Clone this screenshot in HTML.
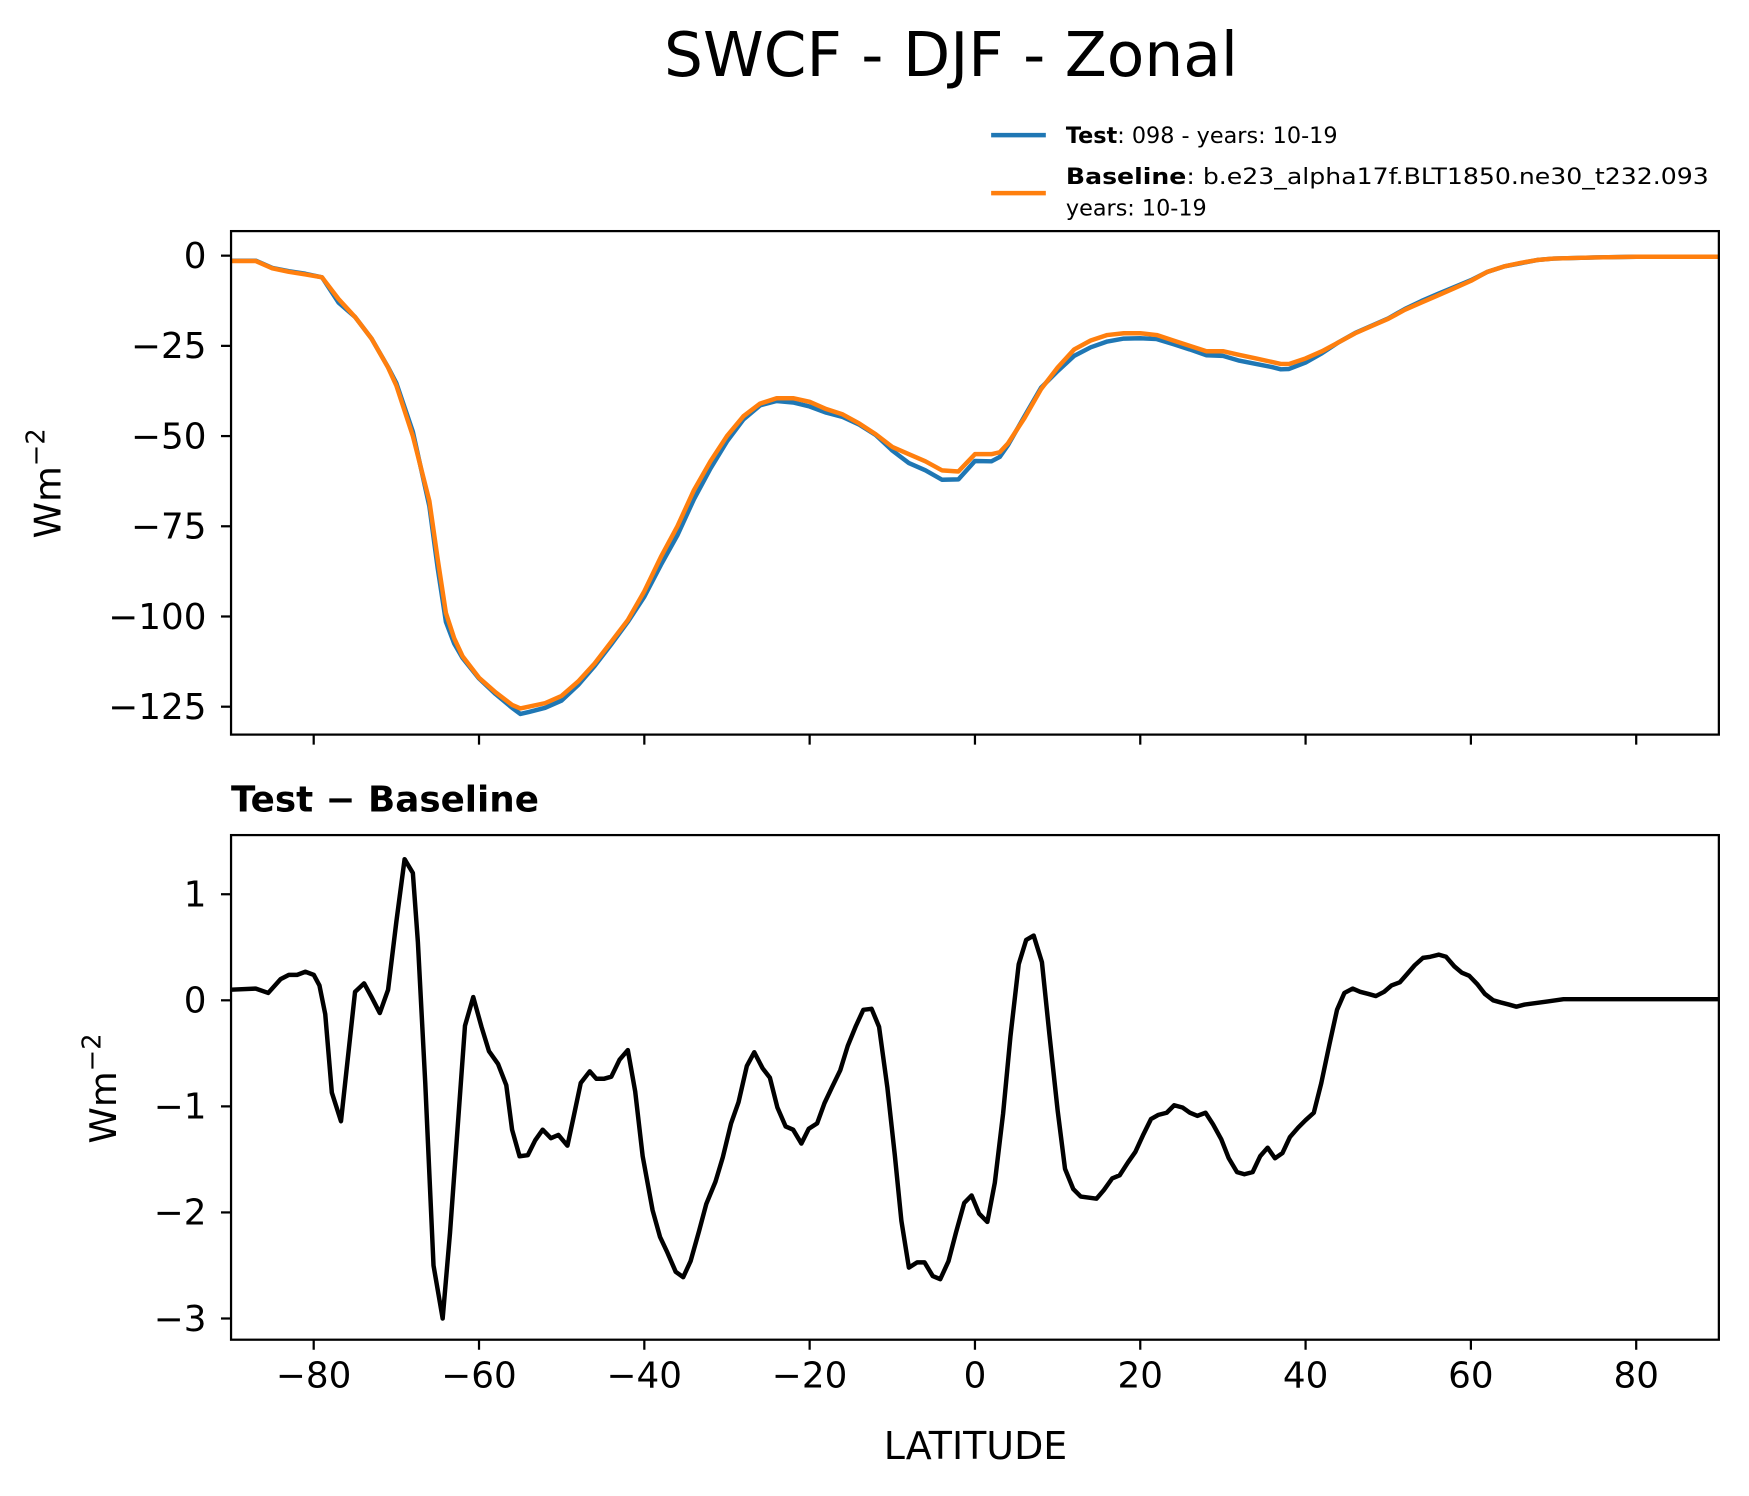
<!DOCTYPE html>
<html><head><meta charset="utf-8"><style>
html,body{margin:0;padding:0;background:#fff;}
svg{display:block;font-family:"DejaVu Sans","Liberation Sans",sans-serif;}
</style></head><body>
<svg id="fig" width="1749" height="1496" viewBox="0 0 1567 1340" preserveAspectRatio="none" xmlns="http://www.w3.org/2000/svg">
<rect width="1567" height="1340" fill="#fff"/>
<text x="852" y="68" font-size="55" text-anchor="middle">SWCF - DJF - Zonal</text>
<g font-size="20">
  <line x1="888" y1="121" x2="937" y2="121" stroke="#1f77b4" stroke-width="4"/>
  <text x="955" y="128"><tspan font-weight="bold">Test</tspan>: 098 - years: 10-19</text>
  <line x1="888" y1="173" x2="937" y2="173" stroke="#ff7f0e" stroke-width="4"/>
  <text x="955" y="165" textLength="576" lengthAdjust="spacingAndGlyphs"><tspan font-weight="bold">Baseline</tspan>: b.e23_alpha17f.BLT1850.ne30_t232.093</text>
  <text x="955" y="193">years: 10-19</text>
</g>
<g id="topPanel"></g>
<g id="botPanel"></g>
<text x="207" y="727" font-size="32" font-weight="bold">Test − Baseline</text>
<text x="874" y="1307" font-size="34" text-anchor="middle">LATITUDE</text>
<text transform="translate(54,433) rotate(-90)" font-size="33" text-anchor="middle">Wm<tspan dy="-14" font-size="23">−2</tspan></text>
<text transform="translate(104,975) rotate(-90)" font-size="33" text-anchor="middle">Wm<tspan dy="-14" font-size="23">−2</tspan></text>
</svg>
<script>
const lats = [-90,-87,-85,-83,-81,-79,-77,-75,-73,-71,-70,-68,-66,-65,-64,-63,-62,-60,-58,-56,-55,-54,-52,-50,-48,-46,-44,-42,-40,-38,-36,-34,-32,-30,-28,-26,-24,-22,-20,-18,-16,-14,-12,-10,-8,-6,-4,-2,0,2,3,4,6,8,10,12,14,16,18,20,22,24,26,28,30,32,34,36,37,38,40,42,44,46,48,50,52,54,56,58,60,62,64,66,68,70,75,80,90];
const baseVals = [-1.5,-1.5,-3.5,-4.5,-5.2,-6,-12,-17,-23,-31,-36,-50,-68,-84,-99,-106,-111,-117,-121,-124.5,-125.5,-125,-124,-122,-118,-113,-107,-101,-93,-83.5,-75,-65,-57,-50,-44.5,-41,-39.5,-39.5,-40.5,-42.5,-44,-46.5,-49.5,-53,-55,-57,-59.5,-59.8,-55,-55,-54.5,-52,-45,-37,-31,-26,-23.5,-22,-21.5,-21.5,-22,-23.5,-25,-26.5,-26.5,-27.5,-28.5,-29.5,-30,-30,-28.5,-26.5,-24,-21.5,-19.5,-17.5,-15,-13,-11,-9,-7,-4.5,-3,-2,-1.2,-0.8,-0.5,-0.3,-0.3];
const testVals = [-1.4,-1.4,-3.4,-4.3,-5,-6,-13,-17,-23,-30.9,-35.3,-48.8,-69.5,-86.5,-101.5,-107.5,-111.5,-117.2,-121.5,-125.3,-127,-126.5,-125.3,-123.3,-119,-113.7,-107.7,-101.5,-94.5,-85.7,-77.5,-67.5,-59,-51.5,-45.4,-41.5,-40.3,-40.7,-41.8,-43.5,-44.7,-46.8,-49.7,-54,-57.5,-59.5,-62.1,-62,-56.9,-57,-55.8,-52.5,-44.5,-36.6,-32,-27.8,-25.4,-23.8,-23,-22.9,-23.1,-24.5,-26,-27.6,-27.8,-29.1,-30,-30.9,-31.5,-31.4,-29.6,-27,-24,-21.4,-19.4,-17.4,-14.8,-12.6,-10.6,-8.7,-6.8,-4.5,-3,-2.1,-1.2,-0.8,-0.5,-0.3,-0.3];
const diffLats = [-90,-87,-85.5,-84,-83,-82,-81,-80,-79.3,-78.6,-77.8,-76.7,-75,-73.9,-73,-72,-71,-70,-69,-68,-67.4,-66.5,-65.5,-64.4,-63.5,-62.5,-61.7,-60.7,-59.7,-58.8,-57.7,-56.7,-56,-55.1,-54.1,-53.2,-52.3,-51.3,-50.4,-49.3,-48.5,-47.7,-46.6,-45.8,-44.9,-44,-43,-42,-41.1,-40.2,-39,-38.1,-37.2,-36.2,-35.3,-34.4,-33.4,-32.5,-31.4,-30.5,-29.5,-28.6,-27.6,-26.7,-25.7,-24.8,-23.9,-22.9,-22,-21,-20.1,-19.1,-18.2,-17.3,-16.3,-15.4,-14.4,-13.5,-12.5,-11.6,-10.6,-9.7,-8.9,-8,-7,-6.1,-5.1,-4.2,-3.2,-2.3,-1.3,-0.4,0.5,1.5,2.4,3.4,4.3,5.3,6.2,7.1,8.1,9,10,10.9,11.9,12.8,13.7,14.7,15.6,16.6,17.5,18.5,19.4,20.4,21.3,22.2,23.2,24.1,25.1,26,26.9,27.9,28.8,29.8,30.7,31.7,32.6,33.6,34.5,35.4,36.3,37.2,38.1,39.1,40,41,41.9,42.9,43.8,44.7,45.7,46.6,47.6,48.5,49.5,50.4,51.4,52.3,53.2,54.2,55.1,56.1,57,58,58.9,59.8,60.8,61.7,62.7,63.6,64.6,65.5,66.5,67.4,69.3,71.2,75,90];
const diffVals = [0.1,0.11,0.07,0.2,0.24,0.24,0.27,0.24,0.14,-0.13,-0.87,-1.14,0.08,0.16,0.03,-0.12,0.1,0.74,1.33,1.2,0.55,-0.78,-2.5,-3.0,-2.19,-1.1,-0.24,0.03,-0.25,-0.48,-0.6,-0.8,-1.22,-1.47,-1.46,-1.32,-1.22,-1.3,-1.27,-1.37,-1.08,-0.78,-0.67,-0.74,-0.74,-0.72,-0.56,-0.47,-0.86,-1.47,-1.98,-2.23,-2.38,-2.56,-2.61,-2.46,-2.18,-1.92,-1.71,-1.48,-1.16,-0.96,-0.62,-0.49,-0.64,-0.73,-1.01,-1.19,-1.22,-1.35,-1.21,-1.16,-0.97,-0.82,-0.66,-0.43,-0.24,-0.09,-0.08,-0.25,-0.82,-1.46,-2.08,-2.52,-2.47,-2.47,-2.6,-2.63,-2.46,-2.19,-1.91,-1.84,-2.01,-2.09,-1.72,-1.07,-0.34,0.34,0.57,0.61,0.36,-0.32,-1.04,-1.59,-1.78,-1.85,-1.86,-1.87,-1.79,-1.68,-1.65,-1.53,-1.43,-1.26,-1.12,-1.08,-1.06,-0.99,-1.01,-1.06,-1.09,-1.06,-1.17,-1.31,-1.49,-1.62,-1.64,-1.62,-1.47,-1.39,-1.49,-1.44,-1.29,-1.2,-1.13,-1.06,-0.78,-0.41,-0.09,0.07,0.11,0.08,0.06,0.04,0.08,0.14,0.17,0.25,0.33,0.4,0.41,0.43,0.41,0.32,0.26,0.23,0.15,0.06,0.0,-0.02,-0.04,-0.06,-0.04,-0.03,-0.01,0.01,0.01,0.01];
const xTicks = [-80,-60,-40,-20,0,20,40,60,80];
const xTickLabels = ["−80","−60","−40","−20","0","20","40","60","80"];
const topYTicks = [0,-25,-50,-75,-100,-125];
const topYTickLabels = ["0","−25","−50","−75","−100","−125"];
const botYTicks = [1,0,-1,-2,-3];
const botYTickLabels = ["1","0","−1","−2","−3"];

const NS="http://www.w3.org/2000/svg";
const L=207,R=1540;
const X=v=>L+(v+90)/180*(R-L);
const TT=207,TB=658,BT=748,BB=1200;
const Yt=v=>229-(v)*(633-229)/125;
const Yb=v=>896-(v)*95;
function mk(tag,attrs,parent){const e=document.createElementNS(NS,tag);for(const k in attrs)e.setAttribute(k,attrs[k]);parent.appendChild(e);return e;}
const topG=document.getElementById('topPanel'), botG=document.getElementById('botPanel');
function clip(id,y0,y1){const d=mk('defs',{},document.getElementById('fig'));const c=mk('clipPath',{id:id},d);mk('rect',{x:L,y:y0,width:R-L,height:y1-y0},c);}
clip('ct',TT,TB);clip('cb',BT,BB);
function line(g,xs,ys,Y,color,w,cid,name){
  const p=mk('path',{d:xs.map((x,i)=>(i?'L':'M')+X(x).toFixed(1)+','+Y(ys[i]).toFixed(1)).join(''),fill:'none',stroke:color,'stroke-width':w,'stroke-linejoin':'round','clip-path':'url(#'+cid+')'},g);
  
  
}
line(topG,lats,testVals,Yt,'#1f77b4',4,'ct','test-line');
line(topG,lats,baseVals,Yt,'#ff7f0e',4,'ct','baseline-line');
line(botG,diffLats,diffVals,Yb,'#000',4,'cb','difference-line');
function frame(g,y0,y1){const r=mk('rect',{x:L,y:y0,width:R-L,height:y1-y0,fill:'none',stroke:'#000','stroke-width':2},g);
  
  }
frame(topG,TT,TB);frame(botG,BT,BB);
function yticks(g,ticks,labels,Y,name){ticks.forEach((t,i)=>{const y=Y(t);mk('line',{x1:L-9,x2:L,y1:y,y2:y,stroke:'#000','stroke-width':2},g);
  const tx=mk('text',{x:L-22,y:y+11,'font-size':32,'text-anchor':'end'},g);tx.textContent=labels[i];
  
  });}
yticks(topG,topYTicks,topYTickLabels,Yt,'top-y-tick-label');
yticks(botG,botYTicks,botYTickLabels,Yb,'bottom-y-tick-label');
xTicks.forEach((t,i)=>{const x=X(t);
  mk('line',{x1:x,x2:x,y1:TB,y2:TB+9,stroke:'#000','stroke-width':2},topG);
  mk('line',{x1:x,x2:x,y1:BB,y2:BB+9,stroke:'#000','stroke-width':2},botG);
  const tx=mk('text',{x:x,y:1243,'font-size':32,'text-anchor':'middle'},botG);tx.textContent=xTickLabels[i];
  
  
});
</script>
</body></html>
